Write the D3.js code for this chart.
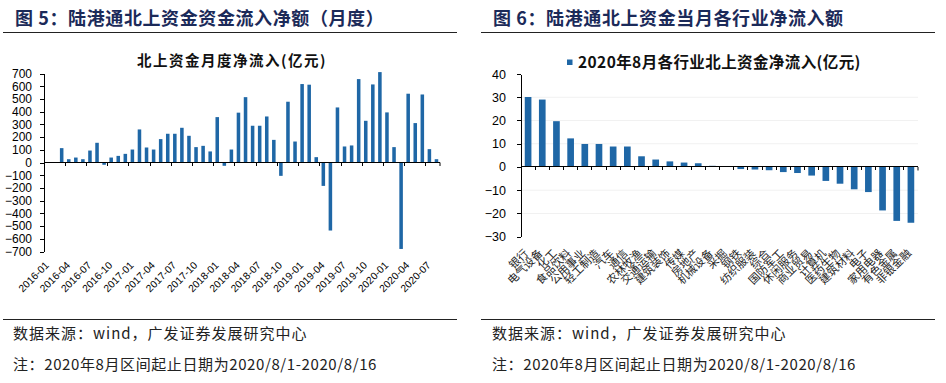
<!DOCTYPE html>
<html>
<head>
<meta charset="utf-8">
<script src="https://cdn.jsdelivr.net/npm/d3@7"></script>
<style>
  body { margin: 0; background: #fff; }
  svg { display: block; font-family: "Liberation Sans", Arial, sans-serif; }
  .cjk { font-family: "Noto Sans CJK SC", "Liberation Sans", sans-serif; }
  .axis path, .axis line { stroke: #000; shape-rendering: crispEdges; }
  .axis text { font-family: "Liberation Sans", Arial, sans-serif; fill: #000; }
</style>
</head>
<body>
<svg id="chart" width="946" height="383"></svg>
<script>
// ---- 图5 数据：北上资金月度净流入(亿元) ----
const flowMonths = [
  "2016-01","2016-02","2016-03","2016-04","2016-05","2016-06","2016-07","2016-08","2016-09","2016-10","2016-11","2016-12",
  "2017-01","2017-02","2017-03","2017-04","2017-05","2017-06","2017-07","2017-08","2017-09","2017-10","2017-11","2017-12",
  "2018-01","2018-02","2018-03","2018-04","2018-05","2018-06","2018-07","2018-08","2018-09","2018-10","2018-11","2018-12",
  "2019-01","2019-02","2019-03","2019-04","2019-05","2019-06","2019-07","2019-08","2019-09","2019-10","2019-11","2019-12",
  "2020-01","2020-02","2020-03","2020-04","2020-05","2020-06","2020-07","2020-08"
];
const flowValues = [
  0, 0, 113, 26, 39, 26, 94, 155, -18, 39, 52, 68,
  102, 260, 118, 102, 184, 226, 226, 273, 210, 121, 131, 87,
  357, -26, 102, 392, 514, 289, 289, 362, 178, -105, 478, 165,
  617, 612, 42, -184, -535, 433, 126, 134, 656, 328, 614, 711,
  394, 121, -680, 541, 310, 535, 105, 26
];
const flowTicks = [700, 600, 500, 400, 300, 200, 100, 0, -100, -200, -300, -400, -500, -600, -700];

// ---- 图6 数据：2020年8月各行业北上资金净流入(亿元) ----
const industries = [
  "银行","电气设备","化工","食品饮料","公用事业","轻工制造","汽车","通信","农林牧渔","交通运输",
  "建筑装饰","传媒","房地产","机械设备","采掘","钢铁","纺织服装","综合","国防军工","休闲服务",
  "商业贸易","计算机","医药生物","建筑材料","电子","家用电器","有色金属","非银金融"
];
const industryFlow = [
  30.1, 29.0, 19.7, 12.3, 9.9, 9.9, 8.8, 8.8, 4.6, 3.2,
  2.4, 1.9, 1.6, 0.5, 0.4, -0.9, -1.1, -1.4, -2.2, -2.6,
  -3.7, -6.0, -7.2, -9.6, -10.8, -18.7, -23.2, -24.0
];
const industryTicks = [40, 30, 20, 10, 0, -10, -20, -30];

const BLUE = '#1f67a6';
const NAVY = '#1b2a59';

const svg = d3.select('#chart');

// ---- 标题 / 分割线 / 来源 ----
function panelFrame(x0, x1, titleX, title, srcX) {
  svg.append('text').attr('class', 'cjk')
    .attr('x', titleX).attr('y', 25)
    .attr('font-size', 18).attr('font-weight', 'bold')
    .attr('letter-spacing', 0.6).attr('fill', NAVY)
    .text(title);
  [32.5, 319.5].forEach(y => {
    svg.append('line').attr('x1', x0).attr('x2', x1).attr('y1', y).attr('y2', y)
      .attr('stroke', '#222').attr('stroke-width', 1.2);
  });
  svg.append('text').attr('class', 'cjk')
    .attr('x', srcX).attr('y', 339).attr('font-size', 15).attr('fill', '#222')
    .attr('letter-spacing', 1)
    .text('数据来源：wind，广发证券发展研究中心');
  svg.append('text').attr('class', 'cjk')
    .attr('x', srcX).attr('y', 370).attr('font-size', 15).attr('fill', '#222')
    .attr('letter-spacing', 0.6)
    .text('注：2020年8月区间起止日期为2020/8/1-2020/8/16');
}
panelFrame(3, 457, 15, '图 5：陆港通北上资金资金流入净额（月度）', 13);
panelFrame(481, 935, 493, '图 6：陆港通北上资金当月各行业净流入额', 492);

// ---- 图5 ----
(function () {
  const x = d3.scaleBand().domain(flowMonths).range([44, 440])
    .paddingInner(0.5).paddingOuter(0.25);
  const y = d3.scaleLinear().domain([-700, 700]).range([251.5, 73.5]);
  const g = svg.append('g');

  g.append('text').attr('class', 'cjk')
    .attr('x', 232).attr('y', 66).attr('text-anchor', 'middle')
    .attr('font-size', 14.5).attr('font-weight', 'bold').attr('letter-spacing', 1.5)
    .attr('fill', '#111')
    .text('北上资金月度净流入(亿元)');

  g.selectAll('rect.bar').data(flowMonths.map((m, i) => ({ m, v: flowValues[i] })))
    .enter().append('rect').attr('class', 'bar')
    .attr('x', d => x(d.m)).attr('width', x.bandwidth())
    .attr('y', d => y(Math.max(0, d.v)))
    .attr('height', d => Math.abs(y(d.v) - y(0)))
    .attr('fill', BLUE);

  const ya = g.append('g').attr('class', 'axis').attr('transform', 'translate(44,0)')
    .call(d3.axisLeft(y).tickValues(flowTicks).tickSize(4).tickPadding(8).tickSizeOuter(0));
  ya.selectAll('text').attr('font-size', 12);

  // 零轴 + 每季度刻度
  const step = x.step();
  g.append('line').attr('x1', 44).attr('x2', 440).attr('y1', y(0)).attr('y2', y(0))
    .attr('stroke', '#000').attr('shape-rendering', 'crispEdges');
  flowMonths.forEach((m, i) => {
    if (i % 3 !== 0) return;
    const bx = x(m) - step * 0.25;
    g.append('line').attr('x1', bx).attr('x2', bx).attr('y1', y(0)).attr('y2', y(0) + 3.5)
      .attr('stroke', '#000').attr('shape-rendering', 'crispEdges');
    g.append('text')
      .attr('transform', `translate(${x(m) + x.bandwidth() / 2 + 2},266) rotate(-45)`)
      .attr('text-anchor', 'end').attr('font-size', 10.3).attr('fill', '#000')
      .text(m);
  });
  g.append('line').attr('x1', 440).attr('x2', 440).attr('y1', y(0)).attr('y2', y(0) + 3.5)
    .attr('stroke', '#000');
})();

// ---- 图6 ----
(function () {
  const x = d3.scaleBand().domain(industries).range([521, 918])
    .paddingInner(0.53).paddingOuter(0.265);
  const y = d3.scaleLinear().domain([-30, 40]).range([236.7, 74]);
  const g = svg.append('g');

  // 浅色网格
  g.selectAll('line.grid').data(industryTicks.filter(t => t !== 0 && t !== -30 && t !== 40))
    .enter().append('line').attr('class', 'grid')
    .attr('x1', 521).attr('x2', 918).attr('y1', d => y(d)).attr('y2', d => y(d))
    .attr('stroke', '#f1f1f1');

  // 图例
  g.append('rect').attr('x', 567).attr('y', 59.5).attr('width', 5.5).attr('height', 5.5).attr('fill', BLUE);
  g.append('text').attr('class', 'cjk')
    .attr('x', 578).attr('y', 68).attr('font-size', 15.5).attr('font-weight', 'bold')
    .attr('letter-spacing', 0.4).attr('fill', '#111')
    .text('2020年8月各行业北上资金净流入(亿元)');

  g.selectAll('rect.bar').data(industries.map((n, i) => ({ n, v: industryFlow[i] })))
    .enter().append('rect').attr('class', 'bar')
    .attr('x', d => x(d.n)).attr('width', x.bandwidth())
    .attr('y', d => y(Math.max(0, d.v)))
    .attr('height', d => Math.abs(y(d.v) - y(0)))
    .attr('fill', BLUE);

  const ya = g.append('g').attr('class', 'axis').attr('transform', 'translate(521,0)')
    .call(d3.axisLeft(y).tickValues(industryTicks).tickSize(4).tickPadding(11).tickSizeOuter(0));
  ya.selectAll('text').attr('font-size', 12.5);

  const step = x.step();
  g.append('line').attr('x1', 521).attr('x2', 918).attr('y1', y(0)).attr('y2', y(0))
    .attr('stroke', '#000').attr('shape-rendering', 'crispEdges');
  industries.forEach((n, i) => {
    const bx = x(n) - step * 0.265;
    g.append('line').attr('x1', bx).attr('x2', bx).attr('y1', y(0)).attr('y2', y(0) + 3.5)
      .attr('stroke', '#000').attr('shape-rendering', 'crispEdges');
    g.append('text').attr('class', 'cjk')
      .attr('transform', `translate(${x(n) + x.bandwidth() / 2 + 1},254) rotate(-45)`)
      .attr('text-anchor', 'end').attr('font-size', 11).attr('fill', '#222')
      .text(n);
  });
  g.append('line').attr('x1', 918).attr('x2', 918).attr('y1', y(0)).attr('y2', y(0) + 3.5)
    .attr('stroke', '#000');
})();
</script>
</body>
</html>
